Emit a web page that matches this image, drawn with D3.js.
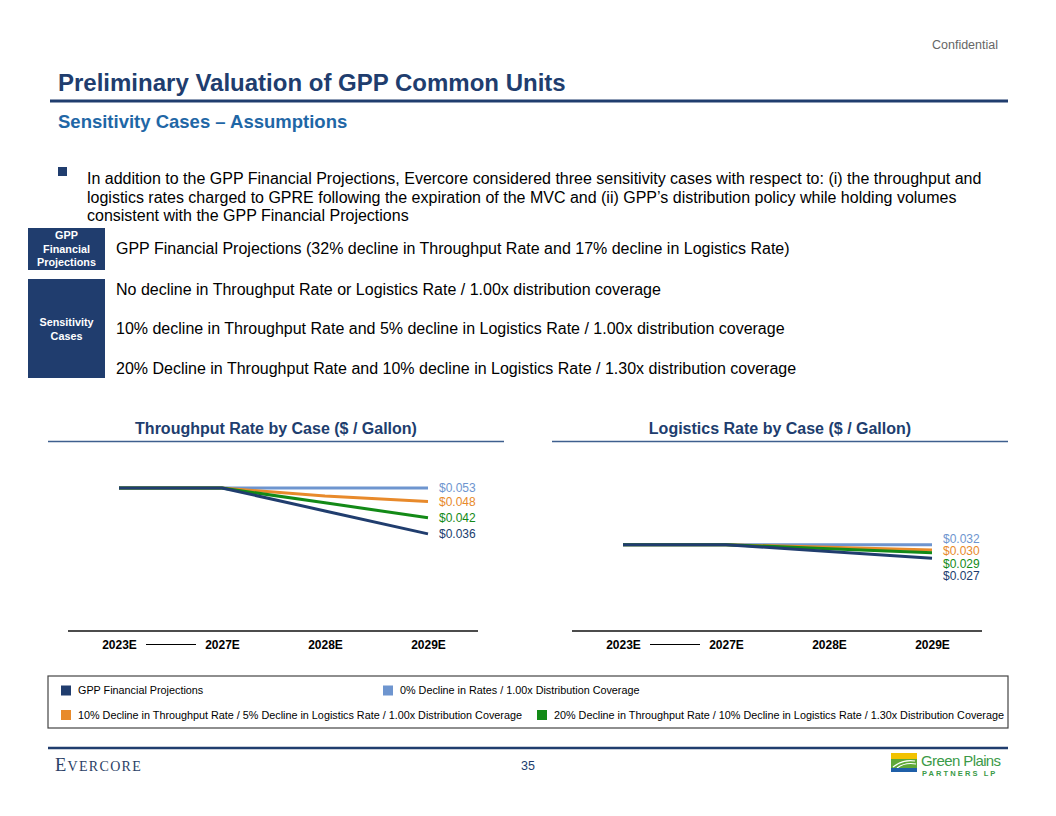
<!DOCTYPE html>
<html>
<head>
<meta charset="utf-8">
<script src="https://cdn.jsdelivr.net/npm/d3@7"></script>
<style>
  html, body { margin: 0; padding: 0; background: #fff; }
  svg { display: block; font-family: Arial, "Liberation Sans", sans-serif; }
</style>
</head>
<body>
<svg id="page" width="1056" height="816"></svg>
<script>
// ---------------- DATA ----------------
const years = ["2023E", "2027E", "2028E", "2029E"];
const seriesNames = [
  "GPP Financial Projections",
  "0% Decline in Rates / 1.00x Distribution Coverage",
  "10% Decline in Throughput Rate / 5% Decline in Logistics Rate / 1.00x Distribution Coverage",
  "20% Decline in Throughput Rate / 10% Decline in Logistics Rate / 1.30x Distribution Coverage"
];
const throughputGPP    = [0.053, 0.053, 0.0445, 0.036];
const throughputZero   = [0.053, 0.053, 0.053, 0.053];
const throughputTen    = [0.053, 0.053, 0.050, 0.048];
const throughputTwenty = [0.053, 0.053, 0.0475, 0.042];

const logisticsGPP    = [0.032, 0.032, 0.0295, 0.027];
const logisticsZero   = [0.032, 0.032, 0.032, 0.032];
const logisticsTen    = [0.032, 0.032, 0.031, 0.030];
const logisticsTwenty = [0.032, 0.032, 0.0305, 0.029];

const chartTitles = ["Throughput Rate by Case ($ / Gallon)", "Logistics Rate by Case ($ / Gallon)"];

const bulletText = [
  "In addition to the GPP Financial Projections, Evercore considered three sensitivity cases with respect to: (i) the throughput and",
  "logistics rates charged to GPRE following the expiration of the MVC and (ii) GPP\u2019s distribution policy while holding volumes",
  "consistent with the GPP Financial Projections"
];
const caseRows = [
  "GPP Financial Projections (32% decline in Throughput Rate and 17% decline in Logistics Rate)",
  "No decline in Throughput Rate or Logistics Rate / 1.00x distribution coverage",
  "10% decline in Throughput Rate and 5% decline in Logistics Rate / 1.00x distribution coverage",
  "20% Decline in Throughput Rate and 10% decline in Logistics Rate / 1.30x distribution coverage"
];

// ---------------- STYLE ----------------
const NAVY = "#203D6E";
const colors = ["#203D6E", "#6E95CF", "#E88A2B", "#138A17"];
const svg = d3.select("#page");

// ---------------- HEADER ----------------
svg.append("text").attr("x", 998).attr("y", 49).attr("text-anchor", "end")
  .attr("font-size", 12.5).attr("fill", "#666").text("Confidential");
svg.append("text").attr("x", 58).attr("y", 91).attr("font-size", 24).attr("font-weight", "bold")
  .attr("fill", NAVY).text("Preliminary Valuation of GPP Common Units");
svg.append("line").attr("x1", 50).attr("x2", 1008).attr("y1", 101).attr("y2", 101)
  .attr("stroke", NAVY).attr("stroke-width", 3);
svg.append("text").attr("x", 58).attr("y", 128).attr("font-size", 18.5).attr("font-weight", "bold")
  .attr("fill", "#1F67A6").text("Sensitivity Cases \u2013 Assumptions");

// bullet
svg.append("rect").attr("x", 58).attr("y", 167).attr("width", 9).attr("height", 9).attr("fill", NAVY);
svg.selectAll("text.bullet").data(bulletText).join("text").attr("class", "bullet")
  .attr("x", 87).attr("y", (d, i) => 184 + i * 18.5).attr("font-size", 16).attr("fill", "#000").text(d => d);

// side boxes
svg.append("rect").attr("x", 28).attr("y", 228).attr("width", 77).attr("height", 42).attr("fill", NAVY);
svg.append("rect").attr("x", 28).attr("y", 279).attr("width", 77).attr("height", 99).attr("fill", NAVY);
[["GPP", 239], ["Financial", 252.5], ["Projections", 266]].forEach(([t, y]) =>
  svg.append("text").attr("x", 66.5).attr("y", y).attr("text-anchor", "middle").attr("font-size", 10.8)
    .attr("font-weight", "bold").attr("fill", "#fff").text(t));
[["Sensitivity", 326], ["Cases", 339.5]].forEach(([t, y]) =>
  svg.append("text").attr("x", 66.5).attr("y", y).attr("text-anchor", "middle").attr("font-size", 10.8)
    .attr("font-weight", "bold").attr("fill", "#fff").text(t));
const rowY = [248, 289, 328, 368];
svg.selectAll("text.caserow").data(caseRows).join("text").attr("class", "caserow")
  .attr("x", 116).attr("y", (d, i) => rowY[i]).attr("dy", "0.35em").attr("font-size", 16)
  .attr("fill", "#000").text(d => d);

// ---------------- CHARTS ----------------
const y = d3.scaleLinear().domain([0, 0.053]).range([631, 488]);
const fmt = v => "$" + d3.format(".3f")(v);

function drawChart(title, left, dataSets) {
  const g = svg.append("g");
  const panelW = 456;
  const x = d3.scalePoint().domain(years).range([left + 71, left + 380]);
  // title + rule
  g.append("text").attr("x", left + panelW / 2).attr("y", 434).attr("text-anchor", "middle")
    .attr("font-size", 16).attr("font-weight", "bold").attr("fill", NAVY).text(title);
  g.append("line").attr("x1", left).attr("x2", left + panelW).attr("y1", 441.5).attr("y2", 441.5)
    .attr("stroke", "#3E5F8E").attr("stroke-width", 1.3);
  // axis
  const axis = d3.axisBottom(x).tickSize(0).tickPadding(9);
  const ag = g.append("g").attr("transform", "translate(0,631)").call(axis);
  ag.select(".domain").remove();
  ag.selectAll("text").attr("font-size", 12).attr("font-weight", "bold").attr("fill", "#000")
    .attr("font-family", "Arial, 'Liberation Sans', sans-serif");
  g.append("line").attr("x1", left + 20).attr("x2", left + 430).attr("y1", 631).attr("y2", 631)
    .attr("stroke", "#111").attr("stroke-width", 1.5);
  // break dash between 2023E and 2027E
  const x0 = x(years[0]), x1 = x(years[1]);
  g.append("line").attr("x1", x0 + 27).attr("x2", x1 - 26).attr("y1", 644.5).attr("y2", 644.5)
    .attr("stroke", "#000").attr("stroke-width", 1.2);

  // lines (draw order: light blue, orange, green, navy)
  const line = d3.line().x((d, i) => x(years[i])).y(d => y(d));
  const order = [1, 2, 3, 0];
  order.forEach(k => {
    g.append("path").datum(dataSets[k]).attr("d", line).attr("fill", "none")
      .attr("stroke", colors[k]).attr("stroke-width", 3);
  });

  // end labels: sorted from top, de-overlapped
  const last = years.length - 1;
  const items = dataSets.map((d, k) => ({ k, v: d[last], y: y(d[last]) }))
    .sort((a, b) => a.y - b.y);
  const gap = 12.4;
  let prev = -Infinity, push = 0;
  items.forEach(it => { it.p = Math.max(it.y, prev + gap); push += it.p - it.y; prev = it.p; });
  const shift = push / items.length / 2;
  items.forEach(it => it.p -= shift);
  g.selectAll("text.lbl").data(items).join("text").attr("class", "lbl")
    .attr("x", x(years[last]) + 11).attr("y", d => d.p).attr("dy", "0.36em")
    .attr("font-size", 12).attr("fill", d => colors[d.k]).text(d => fmt(d.v));
}

drawChart(chartTitles[0], 48, [throughputGPP, throughputZero, throughputTen, throughputTwenty]);
drawChart(chartTitles[1], 552, [logisticsGPP, logisticsZero, logisticsTen, logisticsTwenty]);

// ---------------- LEGEND ----------------
svg.append("rect").attr("x", 48).attr("y", 676).attr("width", 960).attr("height", 52)
  .attr("fill", "none").attr("stroke", "#444").attr("stroke-width", 1.2);
const legendPos = [[61, 690.5], [383, 690.5], [61, 715], [537, 715]];
seriesNames.forEach((name, k) => {
  const [lx, ly] = legendPos[k];
  svg.append("rect").attr("x", lx).attr("y", ly - 5).attr("width", 10).attr("height", 10).attr("fill", colors[k]);
  svg.append("text").attr("x", lx + 17).attr("y", ly).attr("dy", "0.35em").attr("font-size", 10.8)
    .attr("fill", "#000").text(name);
});

// ---------------- FOOTER ----------------
svg.append("line").attr("x1", 48).attr("x2", 1008).attr("y1", 748).attr("y2", 748)
  .attr("stroke", NAVY).attr("stroke-width", 2.5);
const ev = svg.append("text").attr("x", 55).attr("y", 771).attr("font-family", "'Liberation Serif', 'DejaVu Serif', serif")
  .attr("fill", "#2B3F66").attr("letter-spacing", 1.3);
ev.append("tspan").attr("font-size", 18.5).text("E");
ev.append("tspan").attr("font-size", 14).text("VERCORE");
svg.append("text").attr("x", 528).attr("y", 770).attr("text-anchor", "middle").attr("font-size", 12.5)
  .attr("fill", NAVY).text("35");

// Green Plains logo
const lg = svg.append("g").attr("transform", "translate(891,753)");
lg.append("rect").attr("x", 0).attr("y", 0).attr("width", 26).attr("height", 6).attr("fill", "#F2C200");
lg.append("rect").attr("x", 0).attr("y", 6).attr("width", 26).attr("height", 9).attr("fill", "#5FA838");
lg.append("path").attr("d", "M2,14 Q12,6 24,8").attr("fill", "none").attr("stroke", "#fff").attr("stroke-width", 1.2);
lg.append("path").attr("d", "M6,15 Q14,9 25,11").attr("fill", "none").attr("stroke", "#fff").attr("stroke-width", 1.2);
lg.append("rect").attr("x", 0).attr("y", 15).attr("width", 26).attr("height", 4).attr("fill", "#1F5FA8");
svg.append("text").attr("x", 921).attr("y", 766).attr("font-size", 15).attr("fill", "#3B9A48")
  .attr("letter-spacing", -0.6).text("Green Plains");
svg.append("text").attr("x", 922).attr("y", 775.5).attr("font-size", 7.5).attr("font-weight", "bold")
  .attr("fill", "#3B9A48").attr("letter-spacing", 2.1).text("PARTNERS LP");
</script>
</body>
</html>
